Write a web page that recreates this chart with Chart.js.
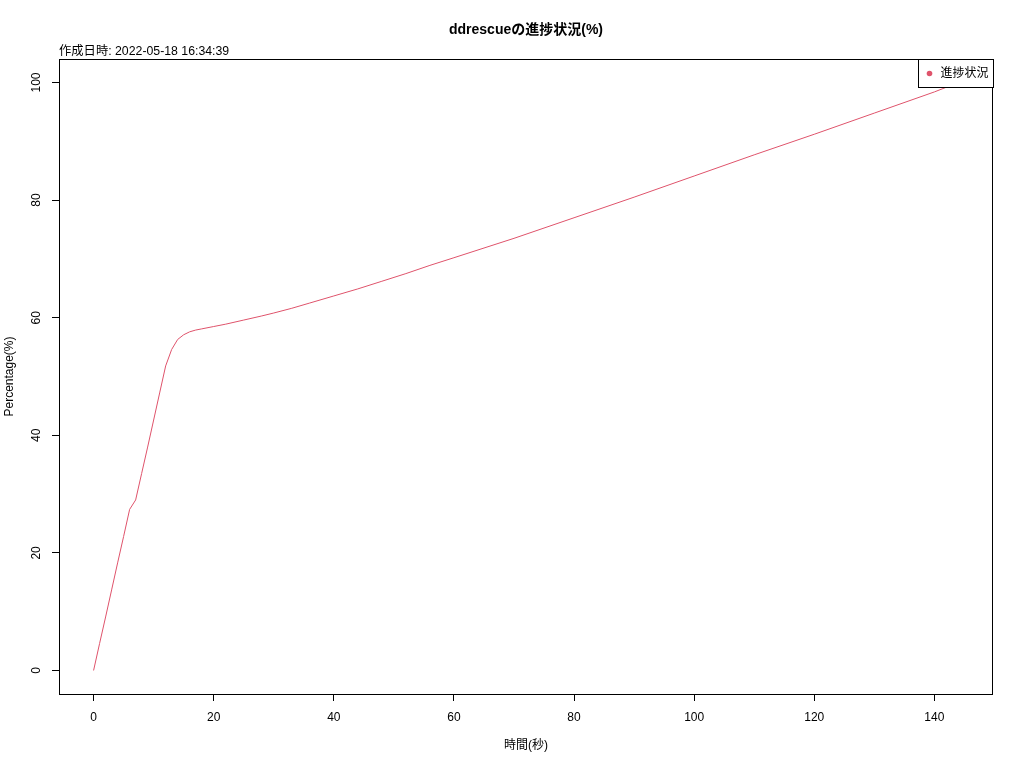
<!DOCTYPE html>
<html>
<head>
<meta charset="utf-8">
<script src="https://cdn.jsdelivr.net/npm/chart.js@4/dist/chart.umd.min.js"></script>
<style>
html, body { margin: 0; padding: 0; background: #fff; }
</style>
</head>
<body>
<canvas id="chart" width="1024" height="768"></canvas>
<script>
// data
const seconds = [0, 1, 2, 3, 4, 5, 6, 7, 8, 9, 10, 11, 12, 13, 14, 15, 16, 17, 18,
    20, 22, 25, 28, 30, 33, 36, 40, 44, 48, 52, 56, 60, 70, 80, 90, 100, 110, 120, 130, 140, 144];
const percent = [0, 4.6, 9.1, 13.7, 18.3, 22.8, 27.4, 29.0, 33.5, 38.0, 42.6, 47.2, 51.8, 54.6, 56.3, 57.1, 57.6, 57.9, 58.1,
    58.5, 58.9, 59.6, 60.3, 60.8, 61.6, 62.5, 63.7, 64.9, 66.2, 67.5, 68.9, 70.2, 73.5, 77.0, 80.5, 84.1, 87.7, 91.2, 94.8, 98.4, 100];
const xTicks = [0, 20, 40, 60, 80, 100, 120, 140];
const yTicks = [0, 20, 40, 60, 80, 100];

const chartTitle = 'ddrescueの進捗状況(%)';
const createdAt = '作成日時: 2022-05-18 16:34:39';
const xTitle = '時間(秒)';
const yTitle = 'Percentage(%)';
const seriesName = '進捗状況';
const lineColor = '#DF536B';
const fontFamily = '"Liberation Sans", "Noto Sans CJK JP", sans-serif';

// R style: axis range extended 4% on each side
const xMin = 0, xMax = 144, yMin = 0, yMax = 100;
const xPad = (xMax - xMin) * 0.04, yPad = (yMax - yMin) * 0.04;

// box, tick labels, titles and legend drawn like base R graphics
const rDecorations = {
    id: 'rDecorations',
    afterDraw(chart) {
        const ctx = chart.ctx;
        const area = chart.chartArea;
        const yScale = chart.scales.y;
        ctx.save();
        ctx.strokeStyle = '#000';
        ctx.lineWidth = 1;
        ctx.strokeRect(Math.round(area.left) + 0.5, Math.round(area.top) + 0.5,
            Math.round(area.right - area.left) - 1, Math.round(area.bottom - area.top));

        ctx.fillStyle = '#000';
        ctx.font = '12px ' + fontFamily;
        ctx.textAlign = 'center';
        ctx.textBaseline = 'middle';
        yTicks.forEach(v => {
            ctx.save();
            ctx.translate(37, yScale.getPixelForValue(v));
            ctx.rotate(-Math.PI / 2);
            ctx.fillText(String(v), 0, 0);
            ctx.restore();
        });

        ctx.save();
        ctx.translate(10, (area.top + area.bottom) / 2);
        ctx.rotate(-Math.PI / 2);
        ctx.fillText(yTitle, 0, 0);
        ctx.restore();

        ctx.fillText(xTitle, (area.left + area.right) / 2, 746);

        ctx.font = 'bold 14px ' + fontFamily;
        ctx.fillText(chartTitle, (area.left + area.right) / 2, 30);

        ctx.font = '12.3px ' + fontFamily;
        ctx.textAlign = 'left';
        ctx.fillText(createdAt, area.left, 52);

        // legend, top right inside the box
        ctx.font = '12px ' + fontFamily;
        const label = chart.data.datasets[0].label;
        const textW = ctx.measureText(label).width;
        const boxW = textW + 27, boxH = 28;
        const bx = Math.round(area.right - boxW) + 0.5, by = Math.round(area.top) + 0.5;
        ctx.fillStyle = '#fff';
        ctx.fillRect(bx, by, boxW, boxH);
        ctx.strokeRect(bx, by, boxW, boxH);
        ctx.fillStyle = lineColor;
        ctx.beginPath();
        ctx.arc(bx + 11, by + boxH / 2, 2.8, 0, Math.PI * 2);
        ctx.fill();
        ctx.fillStyle = '#000';
        ctx.fillText(label, bx + 22, by + boxH / 2 + 0.5);
        ctx.restore();
    }
};

const points = seconds.map((s, i) => ({ x: s, y: percent[i] }));

new Chart(document.getElementById('chart'), {
    type: 'line',
    data: {
        datasets: [{
            label: seriesName,
            data: points,
            borderColor: lineColor,
            borderWidth: 1,
            pointRadius: 0,
            tension: 0,
            fill: false
        }]
    },
    options: {
        responsive: false,
        animation: false,
        layout: { padding: { top: 59, right: 31, left: 0, bottom: 0 } },
        plugins: {
            legend: { display: false },
            tooltip: { enabled: false },
            title: { display: false }
        },
        scales: {
            x: {
                type: 'linear',
                min: xMin - xPad,
                max: xMax + xPad,
                afterBuildTicks: s => { s.ticks = xTicks.map(v => ({ value: v })); },
                afterFit: s => { s.height = 74; },
                border: { display: false },
                grid: { drawOnChartArea: false, tickLength: 7, color: '#000' },
                ticks: {
                    color: '#000',
                    padding: 9,
                    maxRotation: 0,
                    autoSkip: false,
                    font: { family: fontFamily, size: 12 }
                }
            },
            y: {
                type: 'linear',
                min: yMin - yPad,
                max: yMax + yPad,
                afterBuildTicks: s => { s.ticks = yTicks.map(v => ({ value: v })); },
                afterFit: s => { s.width = 59; },
                border: { display: false },
                grid: { drawOnChartArea: false, tickLength: 7, color: '#000' },
                ticks: { display: false }
            }
        }
    },
    plugins: [rDecorations]
});
</script>
</body>
</html>
